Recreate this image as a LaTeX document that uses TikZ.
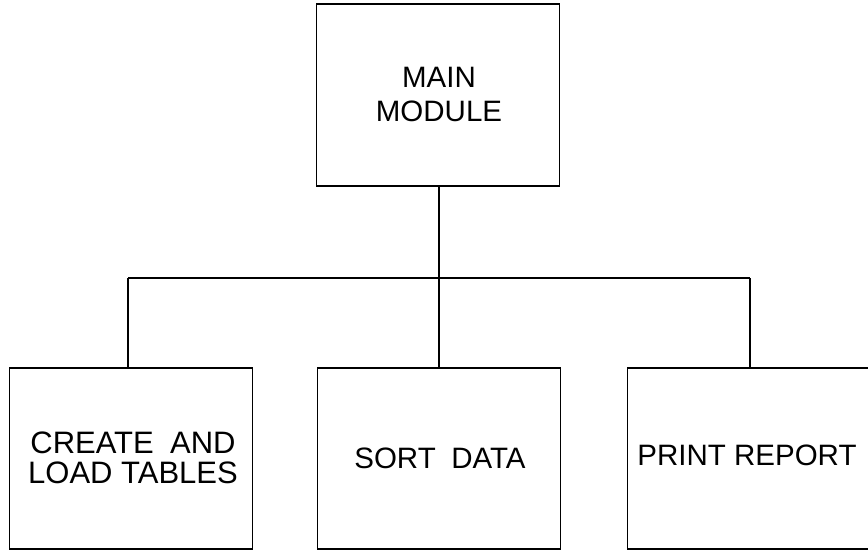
\documentclass[tikz,border=0pt]{standalone}
\usepackage{fontspec}
\setmainfont{Liberation Sans}
\begin{document}
\begin{tikzpicture}[x=1pt,y=-1pt,
  modbox/.style={draw=black, line width=1.1pt, rectangle, inner sep=0pt,
    minimum width=243pt},
  modtext/.style={align=center, inner sep=0pt, font=\fontsize{29.5}{34}\selectfont},
  link/.style={draw=black, line width=1.1pt}]
\useasboundingbox (0,0) rectangle (868,550);

% module boxes
\node[modbox, minimum height=182pt] (main) at (438,95) {};
\node[modbox, minimum height=181pt] (create) at (131,458.5) {};
\node[modbox, minimum height=181pt] (sort) at (439,458.5) {};
\node[modbox, minimum height=181pt] (print) at (749,458.5) {};

% labels
\node[modtext] (mainlbl) at (439,94) {MAIN\\MODULE};
\node[modtext, font=\fontsize{31}{30}\selectfont] (createlbl) at (133,457.5) {CREATE\hspace{0.25em} AND\\LOAD TABLES};
\node[modtext] (sortlbl) at (440,458) {SORT\hspace{0.25em} DATA};
\node[modtext] (printlbl) at (747,455.5) {PRINT REPORT};

% bus connecting the main module to its submodules
\coordinate (busL) at (128,278);
\coordinate (busM) at (439,278);
\coordinate (busR) at (750,278);
\draw[link] (main.south -| busM) -- (busM);
\draw[link] (busL) -- (busR);
\draw[link] (busL) -- (create.north -| busL);
\draw[link] (busM) -- (sort.north -| busM);
\draw[link] (busR) -- (print.north -| busR);
\end{tikzpicture}
\end{document}
